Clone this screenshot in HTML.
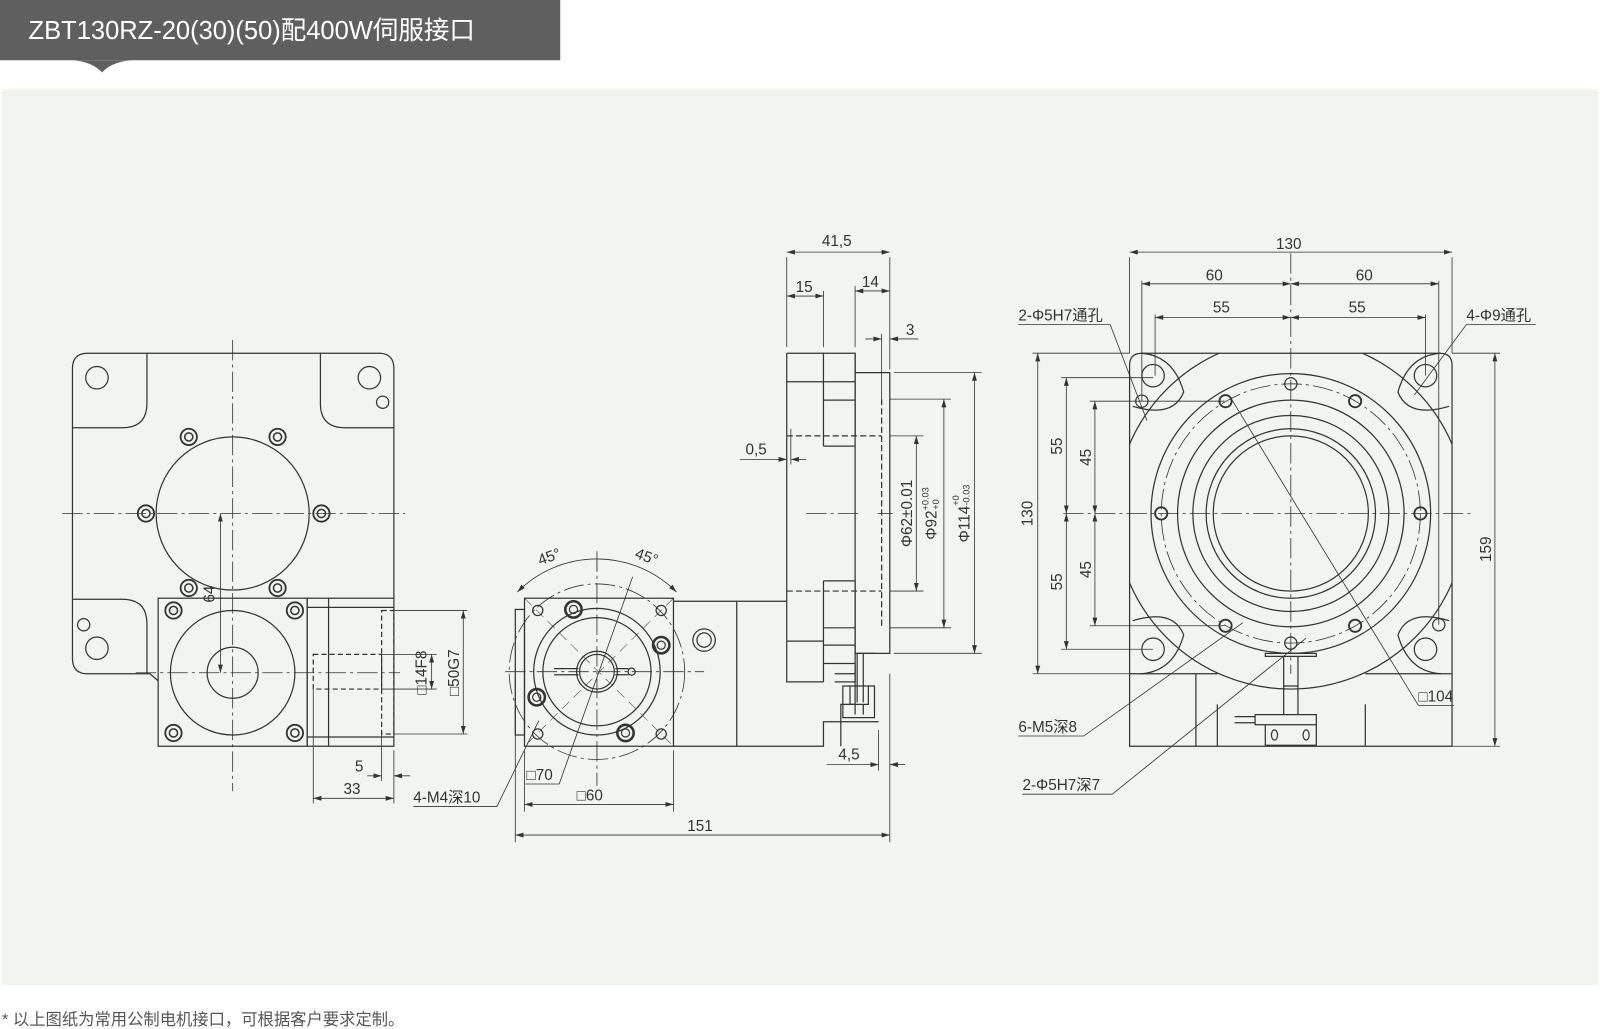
<!DOCTYPE html>
<html><head><meta charset="utf-8"><style>
html,body{margin:0;padding:0;background:#fff;}
svg{display:block;}
text{font-family:"Liberation Sans","Noto Sans CJK SC",sans-serif;fill:#333;}
</style></head><body>
<svg width="1600" height="1029" viewBox="0 0 1568 1008" preserveAspectRatio="none" xmlns="http://www.w3.org/2000/svg">
<defs>
<marker id="a" viewBox="0 0 10 6" refX="10" refY="3" markerWidth="8" markerHeight="5" orient="auto-start-reverse" markerUnits="userSpaceOnUse"><path d="M0,0 L10,3 L0,6 z" fill="#333"/></marker>
</defs>
<rect x="0" y="0" width="1568" height="1008" fill="#fff"/>
<rect x="2" y="87" width="1564" height="878" fill="#f2f4ef"/>
<rect x="0" y="0" width="549" height="59" fill="#5f5f5f"/>
<path d="M70,59 Q90,60 100,71 Q110,60 130,59 z" fill="#5f5f5f"/>
<text x="28" y="38" font-size="25" style="fill:#fff">ZBT130RZ-20(30)(50)配400W伺服接口</text>
<text x="2" y="1004" font-size="16" style="fill:#555">*  以上图纸为常用公制电机接口，可根据客户要求定制。</text>

<g fill="none" stroke="#333" stroke-width="1.2">
<!-- LEFT VIEW -->
<path d="M155,667 L147,660 H86 Q71,660 71,645 V361 Q71,346 86,346 H371 Q386,346 386,361 V586"/>
<path d="M144,346 V395 Q144,419 120,419 H71 M314,346 V395 Q314,419 338,419 H386 M71,587 H120 Q144,587 144,611 V660"/>
<circle cx="95" cy="370" r="11"/><circle cx="362" cy="370" r="11"/><circle cx="375" cy="394" r="6"/>
<circle cx="95" cy="635" r="11"/><circle cx="82" cy="612" r="6"/>
<circle cx="228" cy="503" r="75"/>
<rect x="155" y="586" width="146" height="145"/>
<circle cx="228" cy="659" r="61"/><circle cx="228" cy="659" r="25"/>
<rect x="301" y="586" width="85" height="145"/>
<line x1="322" y1="586" x2="322" y2="731"/>
<line x1="301" y1="595" x2="386" y2="595"/><line x1="301" y1="722" x2="386" y2="722"/>
<g stroke-dasharray="5 3"><rect x="374" y="598" width="12" height="121"/><rect x="307" y="641" width="67" height="34"/></g>
<g id="scr">
</g>
</g>
<!-- screws left -->
<g fill="none" stroke="#333">
<g stroke-width="1.8">
<circle cx="185" cy="428" r="8"/><circle cx="272" cy="428" r="8"/><circle cx="143" cy="503" r="8"/><circle cx="315" cy="503" r="8"/><circle cx="185" cy="576" r="8"/><circle cx="272" cy="576" r="8"/>
<circle cx="170" cy="598" r="8"/><circle cx="289" cy="598" r="8"/><circle cx="170" cy="718" r="8"/><circle cx="289" cy="718" r="8"/>
</g>
<g stroke-width="1.5">
<circle cx="185" cy="428" r="4"/><circle cx="272" cy="428" r="4"/><circle cx="143" cy="503" r="4"/><circle cx="315" cy="503" r="4"/><circle cx="185" cy="576" r="4"/><circle cx="272" cy="576" r="4"/>
<circle cx="170" cy="598" r="4"/><circle cx="289" cy="598" r="4"/><circle cx="170" cy="718" r="4"/><circle cx="289" cy="718" r="4"/>
</g>
</g>

<g fill="none" stroke="#333" stroke-width="0.8">
<!-- centerlines -->
<g stroke-dasharray="20 4 3 4">
<line x1="228" y1="333" x2="228" y2="775"/><line x1="61" y1="503" x2="397" y2="503"/><line x1="133" y1="659" x2="392" y2="659"/>
<line x1="495" y1="658" x2="690" y2="658"/><line x1="585" y1="540" x2="585" y2="770"/>
<line x1="860" y1="503" x2="875" y2="503"/><line x1="790" y1="503" x2="845" y2="503"/>
<line x1="1042" y1="503" x2="1445" y2="503"/><line x1="1265" y1="248" x2="1265" y2="660"/>
<circle cx="585" cy="658" r="86"/>
<circle cx="1265" cy="503" r="127"/>
</g>
<!-- left dims -->
<line x1="216" y1="503" x2="216" y2="659" marker-start="url(#a)" marker-end="url(#a)"/>
<line x1="386" y1="598" x2="458" y2="598"/><line x1="386" y1="719" x2="458" y2="719"/>
<line x1="454" y1="598" x2="454" y2="719" marker-start="url(#a)" marker-end="url(#a)"/>
<line x1="374" y1="641" x2="428" y2="641"/><line x1="374" y1="675" x2="428" y2="675"/>
<line x1="423" y1="641" x2="423" y2="675" marker-start="url(#a)" marker-end="url(#a)"/>
<line x1="374" y1="719" x2="374" y2="765"/><line x1="386" y1="735" x2="386" y2="787"/>
<line x1="360" y1="760" x2="374" y2="760" marker-end="url(#a)"/><line x1="402" y1="760" x2="386" y2="760" marker-end="url(#a)"/>
<line x1="307" y1="675" x2="307" y2="787"/>
<line x1="307" y1="782" x2="386" y2="782" marker-start="url(#a)" marker-end="url(#a)"/>
<polyline points="405,790 487,790 528,706"/>
</g>
<g font-size="15">
<text transform="translate(210,582) rotate(-90)" text-anchor="middle">64</text>
<text transform="translate(450,659) rotate(-90)" text-anchor="middle">□50G7</text>
<text transform="translate(418,659) rotate(-90)" text-anchor="middle">□14F8</text>
<text x="352" y="756" text-anchor="middle">5</text>
<text x="345" y="778" text-anchor="middle">33</text>
<text x="405" y="786">4-M4深10</text>
</g>

<!-- MIDDLE VIEW -->
<g fill="none" stroke="#333" stroke-width="1.2">
<rect x="505" y="597" width="9" height="123"/>
<rect x="514" y="586" width="146" height="145"/>
<path d="M660,589 H771 M660,731 H807 V707 H861 M722,589 V731"/>
<circle cx="690" cy="627" r="11"/><circle cx="690" cy="627" r="7"/>
<circle cx="585" cy="658" r="62"/><circle cx="585" cy="658" r="53"/><circle cx="585" cy="658" r="20"/><circle cx="585" cy="658" r="17"/>
<path d="M543,655 H567 M543,661 H567 M603,655 H616 M603,661 H616"/><circle cx="619" cy="658" r="3.5"/>
<g stroke-width="2.5"><circle cx="562" cy="597" r="8"/><circle cx="648" cy="632" r="8"/><circle cx="526" cy="683" r="8"/><circle cx="613" cy="718" r="8"/></g>
<circle cx="562" cy="597" r="4"/><circle cx="648" cy="632" r="4"/><circle cx="526" cy="683" r="4"/><circle cx="613" cy="718" r="4"/>
<circle cx="527" cy="598" r="5"/><circle cx="648" cy="598" r="5"/><circle cx="527" cy="719" r="5"/><circle cx="648" cy="719" r="5"/>
<!-- side profile -->
<path d="M771,346 H838 V427 M771,346 V668 H807 M807,346 V437 M807,569 V668"/>
<path d="M771,374 H807 M807,374 H838 M807,392 H838 M807,437 H838 M807,569 H838 M771,628 H807 M807,615 H838 M807,632 H838 M807,650 H838"/>
<path d="M838,365 H872 V640 H838 V365 M838,346 V365"/>
<path d="M838,569 V668"/>
<path d="M824,731 V690 H838 V650"/>
<path d="M818,660 H838 M818,668 H838"/>
<path d="M826,672 H857 V703 H826 z M833,672 V690 H851 V672 M838,690 V700 M846,690 V700"/>
<path d="M840,640 V688 M846,640 V688 M840,640 H858"/>
<g stroke-dasharray="6 3"><path d="M771,427 H864 M771,579 H864 M864,391 V615"/></g>
</g>
<g fill="none" stroke="#333" stroke-width="0.8">
<path d="M514,586 L660,731 M660,586 L514,731" stroke-dasharray="10 6" stroke-width="0.5"/>
<path d="M507,580 A110,110 0 0 1 663,580" marker-start="url(#a)" marker-end="url(#a)"/>
<line x1="585" y1="548" x2="585" y2="560"/>
<line x1="771" y1="252" x2="771" y2="340"/><line x1="872" y1="252" x2="872" y2="362"/>
<line x1="771" y1="247" x2="872" y2="247" marker-start="url(#a)" marker-end="url(#a)"/>
<line x1="807" y1="285" x2="807" y2="340"/><line x1="838" y1="280" x2="838" y2="340"/>
<line x1="771" y1="290" x2="807" y2="290" marker-start="url(#a)" marker-end="url(#a)"/>
<line x1="838" y1="285" x2="872" y2="285" marker-start="url(#a)" marker-end="url(#a)"/>
<line x1="864" y1="327" x2="864" y2="391"/>
<line x1="848" y1="332" x2="864" y2="332" marker-end="url(#a)"/><line x1="900" y1="332" x2="872" y2="332" marker-end="url(#a)"/>
<line x1="725" y1="450" x2="771" y2="450" marker-end="url(#a)"/><line x1="790" y1="450" x2="775" y2="450" marker-end="url(#a)"/>
<line x1="775" y1="420" x2="775" y2="455"/>
<line x1="872" y1="427" x2="905" y2="427"/><line x1="872" y1="579" x2="905" y2="579"/>
<line x1="898" y1="427" x2="898" y2="579" marker-start="url(#a)" marker-end="url(#a)"/>
<line x1="872" y1="391" x2="932" y2="391"/><line x1="872" y1="615" x2="932" y2="615"/>
<line x1="925" y1="391" x2="925" y2="615" marker-start="url(#a)" marker-end="url(#a)"/>
<line x1="876" y1="365" x2="962" y2="365"/><line x1="876" y1="640" x2="962" y2="640"/>
<line x1="955" y1="365" x2="955" y2="640" marker-start="url(#a)" marker-end="url(#a)"/>
<line x1="861" y1="715" x2="861" y2="755"/><line x1="872" y1="660" x2="872" y2="825"/>
<line x1="810" y1="749" x2="861" y2="749" marker-end="url(#a)"/><line x1="887" y1="749" x2="872" y2="749" marker-end="url(#a)"/>
<line x1="505" y1="665" x2="505" y2="825"/>
<line x1="505" y1="818" x2="872" y2="818" marker-start="url(#a)" marker-end="url(#a)"/>
<line x1="514" y1="735" x2="514" y2="795"/><line x1="660" y1="735" x2="660" y2="795"/>
<line x1="514" y1="788" x2="660" y2="788" marker-start="url(#a)" marker-end="url(#a)"/>
<polyline points="515,768 548,768 620,565"/>
</g>
<g font-size="15">
<text transform="translate(540,550) rotate(-20)" text-anchor="middle">45°</text>
<text transform="translate(632,550) rotate(20)" text-anchor="middle">45°</text>
<text x="820" y="241" text-anchor="middle">41,5</text>
<text x="788" y="286" text-anchor="middle">15</text>
<text x="853" y="281" text-anchor="middle">14</text>
<text x="892" y="328" text-anchor="middle">3</text>
<text x="741" y="445" text-anchor="middle">0,5</text>
<text transform="translate(894,503) rotate(-90)" text-anchor="middle">Φ62±0.01</text>
<text transform="translate(918,503) rotate(-90)" text-anchor="middle">Φ92<tspan font-size="9" dy="-8">+0.03</tspan><tspan font-size="9" dx="-22" dy="10">+0</tspan></text>
<text transform="translate(950,503) rotate(-90)" text-anchor="middle">Φ114<tspan font-size="9" dy="-10">+0</tspan><tspan font-size="9" dx="-10" dy="10">-0.03</tspan></text>
<text x="832" y="744" text-anchor="middle">4,5</text>
<text x="686" y="814" text-anchor="middle">151</text>
<text x="578" y="784" text-anchor="middle">□60</text>
<text x="516" y="764">□70</text>
</g>

<!-- RIGHT VIEW -->
<defs><clipPath id="sq"><rect x="1107" y="346" width="316" height="345"/></clipPath></defs>
<g fill="none" stroke="#333" stroke-width="1.2">
<path d="M1119,346 H1411 Q1423,346 1423,358 V731 H1107 V358 Q1107,346 1119,346 z"/>
<g clip-path="url(#sq)"><circle cx="1265" cy="503" r="172"/></g>
<path d="M1107,660 H1193 M1338,660 H1423 M1172,660 V731 M1193,690 V731 M1338,690 V731"/>
<path d="M1110,398 Q1150,410 1160,384 Q1150,348 1118,346 M1420,398 Q1380,410 1370,384 Q1380,348 1412,346 M1110,608 Q1150,596 1160,622 Q1150,658 1118,660 M1420,608 Q1380,596 1370,622 Q1380,658 1412,660"/>
<circle cx="1130" cy="368" r="11"/><circle cx="1397" cy="368" r="11"/><circle cx="1130" cy="636" r="11"/><circle cx="1397" cy="636" r="11"/>
<circle cx="1119" cy="393" r="6"/><circle cx="1410" cy="612" r="6"/>
<circle cx="1265" cy="503" r="137"/><circle cx="1265" cy="503" r="111"/><circle cx="1265" cy="503" r="96"/><circle cx="1265" cy="503" r="83"/><circle cx="1265" cy="503" r="76"/>
<circle cx="1265" cy="376" r="6"/><circle cx="1265" cy="630" r="6"/>
<g stroke-width="1.8"><circle cx="1138" cy="503" r="6"/><circle cx="1392" cy="503" r="6"/><circle cx="1201" cy="393" r="6"/><circle cx="1328" cy="393" r="6"/><circle cx="1201" cy="613" r="6"/><circle cx="1328" cy="613" r="6"/></g>
<path d="M1240,640 H1290 V643 H1240 z M1258,643 V700 M1272,643 V700 M1258,672 H1272"/>
<path d="M1230,700 H1290 V710 H1230 z M1210,702 H1230 M1210,708 H1230 M1240,710 H1290 V730 H1240 z"/>
<ellipse cx="1249" cy="720" rx="3" ry="5"/><ellipse cx="1280" cy="720" rx="3" ry="5"/>
</g>
<g fill="none" stroke="#333" stroke-width="0.8">
<line x1="1107" y1="252" x2="1107" y2="346"/><line x1="1423" y1="252" x2="1423" y2="346"/>
<line x1="1107" y1="247" x2="1423" y2="247" marker-start="url(#a)" marker-end="url(#a)"/>
<line x1="1119" y1="275" x2="1119" y2="393"/><line x1="1410" y1="275" x2="1410" y2="612"/>
<line x1="1119" y1="278" x2="1265" y2="278" marker-start="url(#a)" marker-end="url(#a)"/>
<line x1="1265" y1="278" x2="1410" y2="278" marker-start="url(#a)" marker-end="url(#a)"/>
<line x1="1132" y1="308" x2="1132" y2="368"/><line x1="1397" y1="308" x2="1397" y2="368"/>
<line x1="1132" y1="311" x2="1265" y2="311" marker-start="url(#a)" marker-end="url(#a)"/>
<line x1="1265" y1="311" x2="1397" y2="311" marker-start="url(#a)" marker-end="url(#a)"/>
<line x1="1012" y1="346" x2="1107" y2="346"/><line x1="1012" y1="660" x2="1107" y2="660"/>
<line x1="1017" y1="346" x2="1017" y2="660" marker-start="url(#a)" marker-end="url(#a)"/>
<line x1="1040" y1="370" x2="1130" y2="370"/><line x1="1040" y1="636" x2="1130" y2="636"/>
<line x1="1045" y1="370" x2="1045" y2="503" marker-start="url(#a)" marker-end="url(#a)"/>
<line x1="1045" y1="503" x2="1045" y2="636" marker-start="url(#a)" marker-end="url(#a)"/>
<line x1="1068" y1="393" x2="1200" y2="393"/><line x1="1068" y1="613" x2="1200" y2="613"/>
<line x1="1073" y1="393" x2="1073" y2="503" marker-start="url(#a)" marker-end="url(#a)"/>
<line x1="1073" y1="503" x2="1073" y2="613" marker-start="url(#a)" marker-end="url(#a)"/>
<line x1="1423" y1="346" x2="1470" y2="346"/><line x1="1423" y1="731" x2="1470" y2="731"/>
<line x1="1465" y1="346" x2="1465" y2="731" marker-start="url(#a)" marker-end="url(#a)"/>
<polyline points="998,318 1088,318 1124,412"/>
<polyline points="1505,318 1437,318 1386,387"/>
<polyline points="1425,691 1390,691 1205,388"/>
<polyline points="998,721 1062,721 1218,610"/>
<polyline points="1002,778 1090,778 1280,625"/>
</g>
<g font-size="15">
<text x="1263" y="244" text-anchor="middle">130</text>
<text x="1190" y="275" text-anchor="middle">60</text><text x="1337" y="275" text-anchor="middle">60</text>
<text x="1197" y="306" text-anchor="middle">55</text><text x="1330" y="306" text-anchor="middle">55</text>
<text transform="translate(1012,503) rotate(-90)" text-anchor="middle">130</text>
<text transform="translate(1041,437) rotate(-90)" text-anchor="middle">55</text>
<text transform="translate(1041,570) rotate(-90)" text-anchor="middle">55</text>
<text transform="translate(1069,448) rotate(-90)" text-anchor="middle">45</text>
<text transform="translate(1069,558) rotate(-90)" text-anchor="middle">45</text>
<text transform="translate(1461,538) rotate(-90)" text-anchor="middle">159</text>
<text x="998" y="314">2-Φ5H7通孔</text>
<text x="1437" y="314">4-Φ9通孔</text>
<text x="1390" y="687">□104</text>
<text x="998" y="717">6-M5深8</text>
<text x="1002" y="774">2-Φ5H7深7</text>
</g>
</svg>
</body></html>
